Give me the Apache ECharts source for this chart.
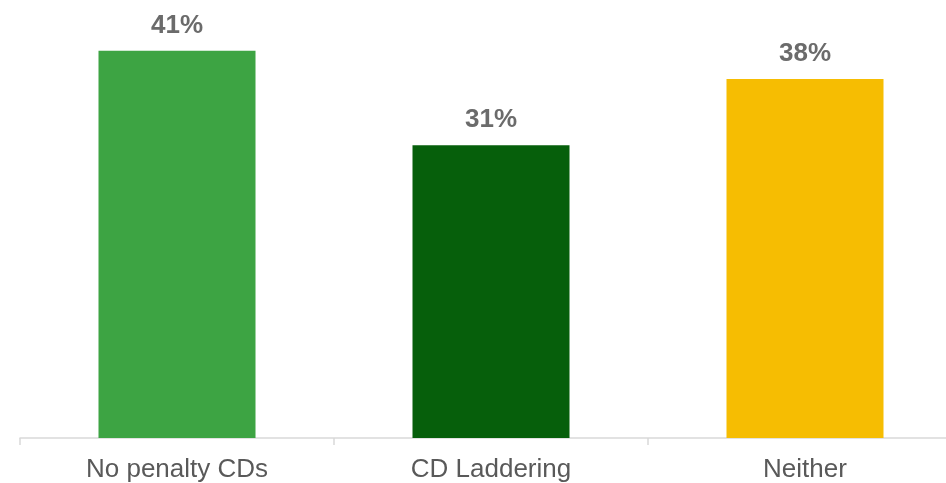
<!DOCTYPE html>
<html>
<head>
<meta charset="utf-8">
<script src="https://cdn.jsdelivr.net/npm/echarts@6/dist/echarts.min.js"></script>
<style>
  html, body { margin: 0; padding: 0; background: #fff; overflow: hidden; }
  /* the plot runs a little past the right edge of the page, so the container is wider than the view */
  #chart { width: 962px; height: 483px; }
</style>
</head>
<body>
<div id="chart"></div>
<script>
// Share of respondents by CD strategy
const categories = ['No penalty CDs', 'CD Laddering', 'Neither'];
const shares = [41, 31, 38];
const barColors = ['#3da443', '#065f0b', '#f6bd02'];

const chart = echarts.init(document.getElementById('chart'));
chart.setOption({
  animation: false,
  grid: { left: 20, right: 0, top: 13, bottom: 45, containLabel: false },
  xAxis: {
    type: 'category',
    data: categories,
    axisLine: { lineStyle: { color: '#d9d9d9', width: 1.5 } },
    axisTick: { show: true, length: 7, lineStyle: { color: '#d9d9d9', width: 1.5 } },
    axisLabel: {
      color: '#595959',
      fontFamily: 'Liberation Sans, Arial, sans-serif',
      fontSize: 26,
      margin: 19
    }
  },
  yAxis: {
    type: 'value',
    min: 0,
    max: 45,
    show: false,
    splitLine: { show: false }
  },
  series: [{
    type: 'bar',
    barWidth: '50%',
    data: shares.map((v, i) => ({ value: v, itemStyle: { color: barColors[i] } })),
    label: {
      show: true,
      position: 'top',
      distance: 12,
      formatter: p => p.value + '%',
      color: '#6b6b6b',
      fontWeight: 'bold',
      fontFamily: 'Liberation Sans, Arial, sans-serif',
      fontSize: 26
    }
  }]
});
</script>
</body>
</html>
